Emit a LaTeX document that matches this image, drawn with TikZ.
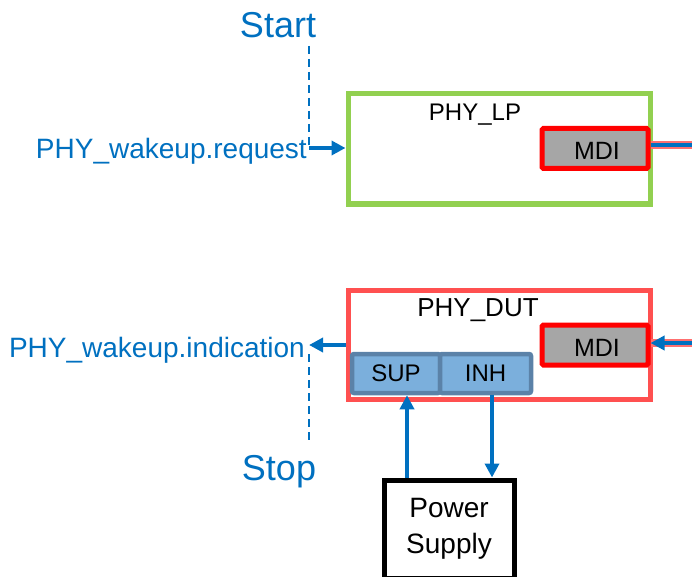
\documentclass[tikz,border=0pt]{standalone}
\usepackage{fontspec}
\setmainfont{Liberation Sans}
\usetikzlibrary{arrows.meta}
\definecolor{tblue}{HTML}{0070C0}
\definecolor{lpgreen}{HTML}{92D050}
\definecolor{dutred}{HTML}{FF5050}
\definecolor{mdigray}{HTML}{A6A6A6}
\definecolor{supfill}{HTML}{7BAFDC}
\definecolor{supline}{HTML}{5B82A8}
\definecolor{linkred}{HTML}{FF7070}
\tikzset{
  phybox/.style={draw, line width=5pt, rectangle, minimum width=302pt, inner sep=0pt},
  mdibox/.style={draw=red, fill=mdigray, line width=5pt, rounded corners=1.5pt, minimum width=106pt, minimum height=40pt, inner sep=0pt},
  mditxt/.style={font=\fontsize{25}{28}\selectfont, inner sep=0pt},
  subbox/.style={draw=supline, fill=supfill, line width=4.5pt, rounded corners=2pt, minimum height=39pt, inner sep=0pt, font=\fontsize{24}{27}\selectfont},
  title/.style={inner sep=0pt},
  bluetxt/.style={text=tblue, inner sep=0pt},
  signal/.style={draw=tblue, line width=3.5pt, -{Triangle[length=14pt,width=14pt]}},
  dashline/.style={draw=tblue, line width=2.2pt, dash pattern=on 8pt off 5pt},
  link/.style={draw=linkred, line width=8.5pt},
  linkin/.style={draw=tblue, line width=4pt},
}
\begin{document}
\begin{tikzpicture}[x=1pt,y=-1pt]
\useasboundingbox (0,0) rectangle (692,577);
% boxes
\node[phybox, draw=lpgreen, minimum height=110pt] (lp) at (499,149) {};
\node[title, font=\fontsize{24}{28}\selectfont] (lpt) at (475,115) {PHY\_LP};
\node[mdibox] (mdi1) at (595,148.5) {};
\node[mditxt] (mdi1t) at (597,151) {MDI};
\node[phybox, draw=dutred, minimum height=109pt] (dut) at (499,344.5) {};
\node[title, font=\fontsize{26}{30}\selectfont] (dutt) at (478,310) {PHY\_DUT};
\node[mdibox] (mdi2) at (595,345) {};
\node[mditxt] (mdi2t) at (597,348) {MDI};
\node[subbox, minimum width=88pt] (sup) at (396,373.5) {SUP};
\node[subbox, minimum width=91pt] (inh) at (485.5,373.5) {INH};
\node[draw=black, line width=5pt, minimum width=130pt, minimum height=98pt, inner sep=0pt, align=center, font=\fontsize{28}{36}\selectfont] (ps) at (449,529) {Power\\Supply};
% texts
\node[bluetxt, font=\fontsize{36}{40}\selectfont] (start) at (278,25) {Start};
\node[bluetxt, font=\fontsize{36}{40}\selectfont] (stop) at (279,472) {Stop};
\node[bluetxt, font=\fontsize{28}{32}\selectfont, anchor=east] (req) at (307,151) {PHY\_wakeup.request};
\node[bluetxt, font=\fontsize{28}{32}\selectfont, anchor=east] (ind) at (305,350) {PHY\_wakeup.indication};
\coordinate (d1a) at (309,46);
\coordinate (d1b) at (309,145);
\coordinate (d2a) at (309,354);
\coordinate (d2b) at (309,443);
\coordinate (r1) at (692,145);
\coordinate (r2) at (692,343);
\coordinate (s1) at (309,148);
\coordinate (s2) at (309,345);
% dashed
\draw[dashline] (d1a) -- (d1b);
\draw[dashline] (d2a) -- (d2b);
% signals
\draw[signal] (s1) -- (lp.west |- s1);
\draw[signal] (dut.west |- s2) -- (s2);
\draw[signal] (ps.north -| 407,0) -- (sup.south -| 407,0);
\draw[signal] (inh.south -| 492,0) -- (ps.north -| 492,0);
% links
\draw[link] (mdi1.east |- r1) -- (r1);
\draw[linkin] (mdi1.east |- r1) -- (r1);
\draw[link] (mdi2.east |- r2) -- (r2);
\draw[linkin, -{Triangle[length=14pt,width=14pt]}] (r2) -- (mdi2.east |- r2);
\end{tikzpicture}
\end{document}
